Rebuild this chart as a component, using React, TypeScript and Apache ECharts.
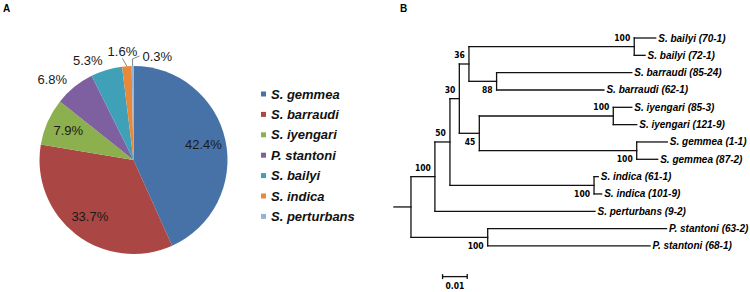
import React, { useEffect, useRef } from 'react';
import * as echarts from 'echarts';

// ---------- Panel A: pie ----------
const pieCategories = ['S. gemmea', 'S. barraudi', 'S. iyengari', 'P. stantoni', 'S. bailyi', 'S. indica', 'S. perturbans'];
const pieValues = [42.4, 33.7, 7.9, 6.8, 5.3, 1.6, 0.3];
const pieColors = ['#4672A8', '#AA4643', '#8DB04E', '#7E5FA0', '#40A0B8', '#E8883A', '#95B3D7'];
const pieLabelInside = [true, true, true, false, false, false, false];
const pieLabelLineShown = [false, false, false, false, false, true, true];

// ---------- Panel B: phylogenetic tree ----------
const nodeIds = ['root', 'ingroup', 'n50', 'n30', 'n36', 'bailyi', 'barraudi', 'n45', 'iyengari', 'gemmea', 'indica', 'stantoni'];
const nodeParents = ['', 'root', 'ingroup', 'n50', 'n30', 'n36', 'n36', 'n30', 'n45', 'n45', 'n50', 'root'];
const nodeBranchLengths = [0, 0.0097, 0.0061, 0.0038, 0.0039, 0.067, 0.0112, 0.0081, 0.0543, 0.0638, 0.0584, 0.0311];
const nodeSupport = ['', '100', '50', '30', '36', '100', '88', '45', '100', '100', '100', '100'];

const leafLabels = [
  'S. bailyi (70-1)', 'S. bailyi (72-1)', 'S. barraudi (85-24)', 'S. barraudi (62-1)',
  'S. iyengari (85-3)', 'S. iyengari (121-9)', 'S. gemmea (1-1)', 'S. gemmea (87-2)',
  'S. indica (61-1)', 'S. indica (101-9)', 'S. perturbans (9-2)', 'P. stantoni (63-2)', 'P. stantoni (68-1)',
];
const leafParents = ['bailyi', 'bailyi', 'barraudi', 'barraudi', 'iyengari', 'iyengari', 'gemmea', 'gemmea', 'indica', 'indica', 'ingroup', 'stantoni', 'stantoni'];
const leafBranchLengths = [0.0087, 0.0044, 0.0548, 0.0435, 0.0075, 0.0095, 0.0124, 0.0085, 0.0017, 0.0031, 0.0649, 0.0725, 0.0658];
const rootStubLength = 0.0069;
const scaleBarStart = 0.0128;
const scaleBarRow = 13.77;
const scaleBarLength = 0.01;
const scaleBarLabel = '0.01';

function buildTree() {
  const depth: Record<string, number> = {};
  nodeIds.forEach((id, i) => {
    depth[id] = (nodeParents[i] ? depth[nodeParents[i]] : 0) + nodeBranchLengths[i];
  });
  const childYs: Record<string, number[]> = {};
  nodeIds.forEach((id) => (childYs[id] = []));
  const leafDepth = leafLabels.map((_, i) => depth[leafParents[i]] + leafBranchLengths[i]);
  leafParents.forEach((p, i) => childYs[p].push(i));
  const nodeY: Record<string, number> = {};
  const span: Record<string, [number, number]> = {};
  for (let i = nodeIds.length - 1; i >= 0; i--) {
    const id = nodeIds[i];
    const ys = childYs[id];
    const lo = Math.min(...ys);
    const hi = Math.max(...ys);
    span[id] = [lo, hi];
    nodeY[id] = (lo + hi) / 2;
    if (nodeParents[i]) childYs[nodeParents[i]].push(nodeY[id]);
  }
  const segments: number[][] = [];
  segments.push([-rootStubLength, nodeY.root, 0, nodeY.root]);
  nodeIds.forEach((id, i) => {
    if (nodeParents[i]) segments.push([depth[nodeParents[i]], nodeY[id], depth[id], nodeY[id]]);
    segments.push([depth[id], span[id][0], depth[id], span[id][1]]);
  });
  leafLabels.forEach((_, i) => {
    segments.push([depth[leafParents[i]], i, leafDepth[i], i]);
  });
  const leafPoints = leafLabels.map((_, i) => [leafDepth[i], i]);
  const supportPoints: number[][] = [];
  const supportDirs: number[] = [];
  const supportTexts: string[] = [];
  nodeIds.forEach((id, i) => {
    if (!nodeParents[i] || !nodeSupport[i]) return;
    supportPoints.push([depth[id], nodeY[id]]);
    supportDirs.push(nodeY[id] < nodeY[nodeParents[i]] ? -1 : 1);
    supportTexts.push(nodeSupport[i]);
  });
  return { segments, leafPoints, supportPoints, supportDirs, supportTexts };
}

const FONT = '"Liberation Sans", Arial, Helvetica, sans-serif';
const NARROW = '"Liberation Sans Narrow", "Arial Narrow", "DejaVu Sans Condensed", sans-serif';

export default function App() {
  const ref = useRef<HTMLDivElement>(null);
  useEffect(() => {
    document.body.style.margin = '0';
    if (!ref.current) return;
    const chart = echarts.init(ref.current, undefined, { renderer: 'svg' });
    const { segments, leafPoints, supportPoints, supportDirs, supportTexts } = buildTree();
    const pctFormatter = (p: any) => Number(p.value).toFixed(1) + '%';

    const option: any = {
      animation: false,
      color: pieColors,
      title: [
        { text: 'A', left: 3, top: 3, padding: 0, textStyle: { fontSize: 10, fontWeight: 'bold', fontFamily: FONT, color: '#000' } },
        { text: 'B', left: 400, top: 3, padding: 0, textStyle: { fontSize: 10, fontWeight: 'bold', fontFamily: FONT, color: '#000' } },
      ],
      legend: {
        data: pieCategories,
        orient: 'vertical',
        left: 261,
        top: 87,
        icon: 'rect',
        itemWidth: 5,
        itemHeight: 5,
        itemGap: 6.4,
        selectedMode: false,
        padding: 0,
        textStyle: { fontSize: 13, fontStyle: 'italic', fontWeight: 'bold', fontFamily: FONT, color: '#111', lineHeight: 14 },
      },
      grid: { left: 386.3, top: 38, width: 345.4, height: 242.6 },
      xAxis: { type: 'value', min: -0.01, max: 0.13, show: false },
      yAxis: { type: 'value', min: 0, max: 14, inverse: true, show: false },
      series: [
        {
          type: 'pie',
          center: [133.5, 160],
          radius: 94,
          startAngle: 90,
          clockwise: true,
          avoidLabelOverlap: false,
          silent: true,
          data: pieValues.map((v, i) => ({
            name: pieCategories[i],
            value: v,
            label: { show: !pieLabelInside[i] },
            labelLine: { show: pieLabelLineShown[i], length: pieLabelLineShown[i] ? 7 : 10, length2: 0 },
          })),
          label: {
            position: 'outside',
            formatter: pctFormatter,
            fontSize: 13,
            fontFamily: FONT,
            color: '#1a1a1a',
            distanceToLabelLine: 1,
          },
          labelLine: { lineStyle: { color: '#777', width: 0.9 } },
          labelLayout: (params: any) => {
            const pts = params.labelLinePoints;
            if (!pts) return {};
            if (params.dataIndex === 6) {
              const p0 = pts[0];
              const p1 = pts[1];
              const p2 = [p1[0] + 7, p1[1] - 3];
              return { x: p2[0] + 3, y: p2[1], align: 'left', verticalAlign: 'middle', labelLinePoints: [p0, p1, p2] };
            }
            if (params.dataIndex === 5) {
              return { x: pts[1][0] - 4, y: pts[1][1] - 1, align: 'center', verticalAlign: 'bottom' };
            }
            return {};
          },
        },
        {
          type: 'pie',
          center: [133.5, 160],
          radius: 137,
          startAngle: 90,
          clockwise: true,
          silent: true,
          itemStyle: { color: 'rgba(0,0,0,0)' },
          emphasis: { disabled: true },
          labelLine: { show: false },
          data: pieValues.map((v, i) => ({
            name: pieCategories[i],
            value: v,
            label: { show: pieLabelInside[i] },
          })),
          label: {
            position: 'inside',
            formatter: pctFormatter,
            fontSize: 13,
            fontFamily: FONT,
            color: '#1a1a1a',
          },
        },
        {
          type: 'custom',
          coordinateSystem: 'cartesian2d',
          silent: true,
          encode: { x: [0, 2], y: [1, 3] },
          data: segments,
          renderItem: (params: any, api: any) => {
            const p1 = api.coord([api.value(0), api.value(1)]);
            const p2 = api.coord([api.value(2), api.value(3)]);
            return {
              type: 'line',
              shape: { x1: p1[0], y1: p1[1], x2: p2[0], y2: p2[1] },
              style: { stroke: '#111', lineWidth: 1.3, lineCap: 'square' },
            };
          },
        },
        {
          type: 'custom',
          coordinateSystem: 'cartesian2d',
          silent: true,
          encode: { x: 0, y: 1 },
          data: leafPoints,
          renderItem: (params: any, api: any) => {
            const p = api.coord([api.value(0), api.value(1)]);
            return {
              type: 'text',
              x: p[0] + 2.5,
              y: p[1],
              style: {
                text: leafLabels[params.dataIndex],
                fill: '#000',
                fontSize: 10,
                fontStyle: 'italic',
                fontWeight: 'bold',
                fontFamily: FONT,
                align: 'left',
                verticalAlign: 'middle',
              },
            };
          },
        },
        {
          type: 'custom',
          coordinateSystem: 'cartesian2d',
          silent: true,
          encode: { x: 0, y: 1 },
          data: supportPoints,
          renderItem: (params: any, api: any) => {
            const p = api.coord([api.value(0), api.value(1)]);
            const dir = supportDirs[params.dataIndex];
            return {
              type: 'text',
              x: p[0] - 4,
              y: p[1] + dir * 8.5,
              style: {
                text: supportTexts[params.dataIndex],
                fill: '#000',
                fontSize: 8.5,
                fontWeight: 'bold',
                fontFamily: NARROW,
                align: 'right',
                verticalAlign: 'middle',
              },
            };
          },
        },
        {
          type: 'custom',
          coordinateSystem: 'cartesian2d',
          silent: true,
          encode: { x: [0, 2], y: [1, 3] },
          data: [[scaleBarStart, scaleBarRow, scaleBarStart + scaleBarLength, scaleBarRow]],
          renderItem: (params: any, api: any) => {
            const a = api.coord([api.value(0), api.value(1)]);
            const b = api.coord([api.value(2), api.value(3)]);
            const st = { stroke: '#111', lineWidth: 1.3 };
            return {
              type: 'group',
              children: [
                { type: 'line', shape: { x1: a[0], y1: a[1], x2: b[0], y2: b[1] }, style: st },
                { type: 'line', shape: { x1: a[0], y1: a[1] - 2.5, x2: a[0], y2: a[1] + 2.5 }, style: st },
                { type: 'line', shape: { x1: b[0], y1: b[1] - 2.5, x2: b[0], y2: b[1] + 2.5 }, style: st },
                {
                  type: 'text',
                  x: (a[0] + b[0]) / 2,
                  y: a[1] + 9,
                  style: {
                    text: scaleBarLabel,
                    fill: '#000',
                    fontSize: 8.5,
                    fontWeight: 'bold',
                    fontFamily: NARROW,
                    align: 'center',
                    verticalAlign: 'middle',
                  },
                },
              ],
            };
          },
        },
      ],
    };
    chart.setOption(option);
    return () => chart.dispose();
  }, []);
  return <div ref={ref} style={{ width: 750, height: 292 }} />;
}
